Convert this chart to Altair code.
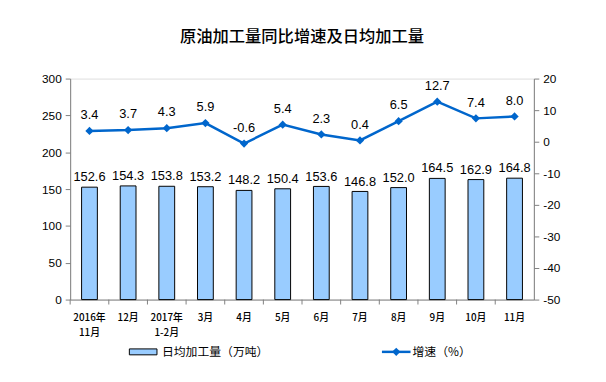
import altair as alt
import pandas as pd

categories = ["2016年|11月", "12月", "2017年|1-2月", "3月", "4月", "5月", "6月", "7月", "8月", "9月", "10月", "11月"]
daily_output = [152.6, 154.3, 153.8, 153.2, 148.2, 150.4, 153.6, 146.8, 152.0, 164.5, 162.9, 164.8]
growth = [3.4, 3.7, 4.3, 5.9, -0.6, 5.4, 2.3, 0.4, 6.5, 12.7, 7.4, 8.0]

df = pd.DataFrame({"cat": categories, "out": daily_output, "g": growth})
df["out_lbl"] = [f"{v:.1f}" for v in daily_output]
df["g_lbl"] = [f"{v:.1f}" for v in growth]

W, H = 470, 224
CJK = "Noto Sans CJK SC"
NUM = "Liberation Sans"
AX = "#808080"

xscale = alt.Scale(paddingInner=0, paddingOuter=0)
xaxis = alt.Axis(title=None, labelAngle=0, labelExpr="split(datum.label, '|')",
                 labelFont=CJK, labelFontSize=10, labelColor="#000", labelLineHeight=15,
                 labelPadding=13, ticks=False, domainColor=AX, labelFontWeight=500)
xenc = alt.X("cat:N", sort=categories, scale=xscale, axis=xaxis)
xedge = alt.X("cat:N", sort=categories, scale=xscale, bandPosition=0, axis=xaxis)

base = alt.Chart(df)

ybar = alt.Y("out:Q", scale=alt.Scale(domain=[0, 300], nice=False),
             axis=alt.Axis(title=None, values=[0, 50, 100, 150, 200, 250, 300], grid=False,
                           domainColor=AX, tickColor=AX, tickSize=5, labelFont=NUM, labelFontSize=12,
                           labelColor="#000", labelPadding=4, labelExpr="'' + datum.value"))
bars = base.mark_bar(size=16, fill="#99CCFF", stroke="#000", strokeWidth=1).encode(x=xenc, y=ybar)
bar_txt = base.mark_text(baseline="bottom", dy=-3, font=NUM, fontSize=13, color="#000").encode(
    x=xenc, y=ybar, text="out_lbl:N")
ticks = base.mark_rule(color=AX).encode(x=xedge, y=alt.value(H), y2=alt.value(H + 5))
left = alt.layer(bars, bar_txt, ticks)

yline = alt.Y("g:Q", scale=alt.Scale(domain=[-50, 20], nice=False),
              axis=alt.Axis(title=None, orient="right", values=list(range(-50, 21, 10)), grid=False,
                            domainColor=AX, tickColor=AX, tickSize=5, labelFont=NUM, labelFontSize=12,
                            labelColor="#000", labelPadding=4, labelExpr="'' + datum.value"))
line = base.mark_line(color="#0066CC", strokeWidth=2.5).encode(x=xenc, y=yline)
pts = base.mark_point(shape="diamond", filled=True, color="#0066CC", size=70, opacity=1).encode(x=xenc, y=yline)
line_txt = base.mark_text(baseline="bottom", dy=-9, font=NUM, fontSize=13, color="#000").encode(
    x=xenc, y=yline, text="g_lbl:N")
right = alt.layer(line, pts, line_txt)

# legend
leg_rect = alt.Chart(pd.DataFrame({"a": [0]})).mark_rect(fill="#99CCFF", stroke="#000", strokeWidth=1).encode(
    x=alt.value(60), x2=alt.value(88), y=alt.value(274), y2=alt.value(280))
leg_t1 = alt.Chart(pd.DataFrame({"t": ["日均加工量（万吨）"]})).mark_text(
    align="left", baseline="middle", font=CJK, fontSize=12, color="#000").encode(
    x=alt.value(93), y=alt.value(277), text="t:N")
leg_line = alt.Chart(pd.DataFrame({"a": [0]})).mark_rule(color="#0066CC", strokeWidth=2.5).encode(
    x=alt.value(316), x2=alt.value(345), y=alt.value(277))
leg_pt = alt.Chart(pd.DataFrame({"a": [0]})).mark_point(shape="diamond", filled=True, color="#0066CC", size=70, opacity=1).encode(
    x=alt.value(330.5), y=alt.value(277))
leg_t2 = alt.Chart(pd.DataFrame({"t": ["增速（%）"]})).mark_text(
    align="left", baseline="middle", font=CJK, fontSize=12, color="#000").encode(
    x=alt.value(347), y=alt.value(277), text="t:N")

chart = alt.layer(left, right, leg_rect, leg_t1, leg_line, leg_pt, leg_t2).resolve_scale(y="independent").properties(
    width=W, height=H,
    title=alt.TitleParams("原油加工量同比增速及日均加工量", font=CJK, fontSize=16.5, fontWeight=500,
                          color="#000", anchor="middle", offset=28),
    autosize=alt.AutoSizeParams(type="none"),
    padding={"left": 63, "top": 69, "right": 65, "bottom": 81},
).configure_view(stroke=None).configure(background="white")

chart.save("out.html", embed_options={"renderer": "svg", "actions": False})
